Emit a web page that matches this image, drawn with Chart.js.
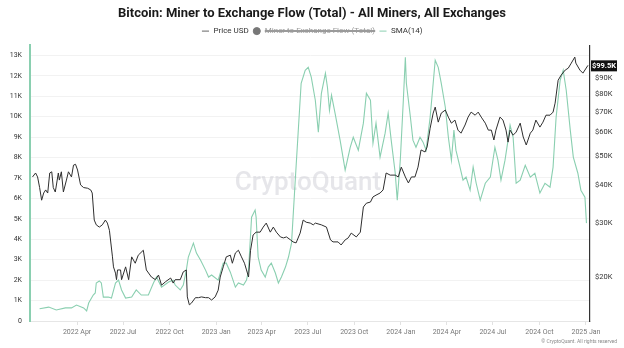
<!DOCTYPE html>
<html>
<head>
<meta charset="utf-8">
<script src="https://cdn.jsdelivr.net/npm/chart.js@4.4.1/dist/chart.umd.min.js"></script>
<style>
  html, body { margin: 0; padding: 0; background: #fff; }
  #wrap { width: 624px; height: 348px; }
</style>
</head>
<body>
<div id="wrap"><canvas id="chart" width="624" height="348"></canvas></div>
<script>
// BTC price (USD)
const priceDates = [
  '2022-01-03','2022-01-09','2022-01-13','2022-01-17','2022-01-21','2022-01-25','2022-01-29','2022-02-02',
  '2022-02-06','2022-02-10','2022-02-13','2022-02-17','2022-02-23','2022-02-25','2022-03-01','2022-03-05',
  '2022-03-11','2022-03-15','2022-03-21','2022-03-25','2022-03-29','2022-04-02','2022-04-08','2022-04-14',
  '2022-04-22','2022-04-28','2022-05-01','2022-05-05','2022-05-09','2022-05-15','2022-05-21','2022-05-27',
  '2022-05-31','2022-06-04','2022-06-10','2022-06-12','2022-06-16','2022-06-18','2022-06-20','2022-06-26',
  '2022-06-28','2022-07-06','2022-07-12','2022-07-18','2022-07-25','2022-07-31','2022-08-10','2022-08-16',
  '2022-08-26','2022-09-03','2022-09-09','2022-09-15','2022-09-23','2022-10-03','2022-10-08','2022-10-12',
  '2022-10-22','2022-10-28','2022-11-03','2022-11-05','2022-11-09','2022-11-13','2022-11-21','2022-11-27',
  '2022-12-03','2022-12-11','2022-12-17','2022-12-23','2022-12-30','2023-01-05','2023-01-09','2023-01-15',
  '2023-01-21','2023-01-29','2023-02-02','2023-02-08','2023-02-14','2023-02-20','2023-02-26','2023-03-02',
  '2023-03-06','2023-03-10','2023-03-15','2023-03-21','2023-03-29','2023-04-04','2023-04-10','2023-04-18',
  '2023-04-24','2023-04-30','2023-05-08','2023-05-14','2023-05-20','2023-05-28','2023-06-02','2023-06-08',
  '2023-06-16','2023-06-22','2023-06-28','2023-07-06','2023-07-12','2023-07-16','2023-07-28','2023-08-07',
  '2023-08-15','2023-08-20','2023-08-30','2023-09-05','2023-09-13','2023-09-19','2023-09-25','2023-10-05',
  '2023-10-13','2023-10-19','2023-10-25','2023-11-02','2023-11-07','2023-11-13','2023-11-21','2023-11-27',
  '2023-12-03','2023-12-11','2023-12-21','2023-12-27','2024-01-02','2024-01-10','2024-01-16','2024-01-22',
  '2024-01-29','2024-02-04','2024-02-10','2024-02-18','2024-02-22','2024-02-28','2024-03-05','2024-03-09',
  '2024-03-15','2024-03-21','2024-03-29','2024-04-04','2024-04-10','2024-04-17','2024-04-23','2024-04-29',
  '2024-05-07','2024-05-13','2024-05-19','2024-05-27','2024-06-02','2024-06-08','2024-06-16','2024-06-22',
  '2024-06-28','2024-07-03','2024-07-07','2024-07-15','2024-07-21','2024-07-27','2024-07-31','2024-08-04',
  '2024-08-10','2024-08-16','2024-08-24','2024-08-30','2024-09-05','2024-09-13','2024-09-18','2024-09-24',
  '2024-10-02','2024-10-08','2024-10-14','2024-10-22','2024-10-28','2024-11-01','2024-11-07','2024-11-13',
  '2024-11-21','2024-11-27','2024-12-03','2024-12-10','2024-12-12','2024-12-20','2024-12-26','2025-01-05'
];
const priceUsd = [
  42700,44000,42700,39400,35800,37800,38700,37800,
  44000,44400,39400,38100,44000,41700,44400,38100,
  41700,44400,42700,46700,47000,45000,40200,39400,
  39200,38700,37800,30800,29700,29200,29700,30800,
  30100,28500,23300,21600,20600,19600,21100,21100,
  19600,21600,19600,23300,22200,23600,24500,21100,
  20000,19600,20300,18800,19300,19850,19100,19600,
  19600,20800,21100,17200,16200,16400,17100,17100,
  17200,17100,17100,16800,17200,18100,20000,21600,
  23300,23600,22200,24000,24500,23300,22200,21100,
  20000,24500,27500,28100,28100,29200,30100,28100,
  29200,28100,27100,26900,27100,26500,26100,25900,
  27900,30800,30300,30100,29700,30100,29700,29200,
  26500,26100,26100,25500,26500,26900,27900,27100,
  28100,34000,35000,35300,36700,37200,37800,38700,
  44000,43300,43300,42700,46000,42700,40800,42700,
  42700,46000,52400,51600,53600,61800,69300,72500,
  64700,69300,70900,67200,64200,65700,60900,59500,
  63300,67200,69800,68200,69800,67200,64200,60900,
  60900,56500,60900,67200,65700,60900,55600,60900,
  58600,60000,64200,57800,54400,59500,60900,65700,
  62300,64700,68200,68200,69800,74700,88900,92400,
  96000,97400,101200,105900,101200,96000,93800,99500
];

// Miner to Exchange Flow (Total) SMA(14), in BTC
const smaDates = [
  '2022-01-17','2022-02-04','2022-02-19','2022-03-09','2022-03-21','2022-03-31','2022-04-14','2022-04-20',
  '2022-04-24','2022-05-03','2022-05-07','2022-05-09','2022-05-15','2022-05-19','2022-05-23','2022-06-02',
  '2022-06-08','2022-06-16','2022-06-22','2022-06-28','2022-07-06','2022-07-18','2022-07-27','2022-08-06',
  '2022-08-20','2022-08-30','2022-09-05','2022-09-15','2022-09-29','2022-10-08','2022-10-12','2022-10-22',
  '2022-10-28','2022-11-03','2022-11-07','2022-11-17','2022-11-23','2022-12-01','2022-12-11','2022-12-17',
  '2022-12-23','2023-01-05','2023-01-15','2023-01-21','2023-01-29','2023-02-08','2023-02-14','2023-02-24',
  '2023-03-02','2023-03-06','2023-03-12','2023-03-19','2023-03-21','2023-03-25','2023-03-31','2023-04-08',
  '2023-04-14','2023-04-20','2023-04-28','2023-05-04','2023-05-10','2023-05-18','2023-05-24','2023-05-30',
  '2023-06-06','2023-06-12','2023-06-18','2023-06-26','2023-07-02','2023-07-08','2023-07-16','2023-07-22',
  '2023-07-28','2023-08-05','2023-08-09','2023-08-13','2023-08-17','2023-08-24','2023-09-03','2023-09-13',
  '2023-09-23','2023-09-29','2023-10-09','2023-10-19','2023-10-25','2023-11-02','2023-11-07','2023-11-13',
  '2023-11-21','2023-12-01','2023-12-07','2023-12-13','2023-12-21','2023-12-25','2023-12-31','2024-01-06',
  '2024-01-10','2024-01-12','2024-01-20','2024-01-25','2024-01-31','2024-02-08','2024-02-14','2024-02-20',
  '2024-02-28','2024-03-05','2024-03-09','2024-03-15','2024-03-21','2024-03-29','2024-04-04','2024-04-10',
  '2024-04-15','2024-04-19','2024-04-27','2024-05-03','2024-05-09','2024-05-17','2024-05-23','2024-05-29',
  '2024-06-06','2024-06-16','2024-06-26','2024-07-05','2024-07-11','2024-07-17','2024-07-25','2024-07-31',
  '2024-08-04','2024-08-10','2024-08-16','2024-08-24','2024-09-03','2024-09-13','2024-09-22','2024-10-02',
  '2024-10-12','2024-10-22','2024-10-28','2024-11-03','2024-11-11','2024-11-17','2024-11-23','2024-12-01',
  '2024-12-07','2024-12-16','2024-12-22','2024-12-30','2025-01-02'
];
const smaValues = [
  600,680,540,640,640,780,640,490,
  880,1270,1370,1860,1960,1860,1170,1170,
  1120,1860,2000,1520,1120,1170,1520,1270,
  1270,1860,2150,1660,1910,2000,1760,1520,
  1760,2490,3130,3810,3320,2980,2490,2150,
  2250,2000,2830,2830,2390,1660,1860,1760,
  2000,2490,5080,5430,5080,3130,2490,2150,
  2640,2830,2350,1860,2150,2640,3130,3810,
  6740,9190,11630,12270,12410,11930,10800,9240,
  11140,12120,11440,10310,11050,10170,8850,7380,
  8500,8990,8360,9680,11140,10800,8700,9680,
  8020,9190,10170,8850,7230,5910,7870,10800,
  12900,11630,9970,8850,8500,8990,8750,8360,
  9970,11630,12760,12410,11630,10460,8990,7870,
  9340,8360,7530,6890,7040,6400,7530,6740,
  5910,6740,7040,8500,7870,6890,7870,8850,
  9580,8990,6740,6890,7620,7040,7230,6260,
  6740,6550,7530,9970,11780,12270,11290,9340,
  8020,7230,6400,6060,4790
];

// series shown switched off in the legend
const minerFlowValues = [];

const flowTicks = [0,1000,2000,3000,4000,5000,6000,7000,8000,9000,10000,11000,12000,13000];
const priceTicks = [20000,30000,40000,50000,60000,70000,80000,90000];
const quarterTicks = ['2022-04-01','2022-07-01','2022-10-01','2023-01-01','2023-04-01','2023-07-01',
  '2023-10-01','2024-01-01','2024-04-01','2024-07-01','2024-10-01','2025-01-01'];
const lastPriceLabel = '$99.5K';

const MONTHS = ['Jan','Feb','Mar','Apr','May','Jun','Jul','Aug','Sep','Oct','Nov','Dec'];
const toMs = d => Date.parse(d);
const FONT = 'Roboto, "Liberation Sans", sans-serif';
const GREEN = '#8acfb0';

const extras = {
  id: 'extras',
  beforeDatasetsDraw(chart) {
    const {ctx, chartArea: a} = chart;
    ctx.save();
    ctx.font = '500 26px ' + FONT;
    ctx.fillStyle = 'rgba(205,206,214,0.5)';
    ctx.textAlign = 'center';
    ctx.textBaseline = 'middle';
    ctx.fillText('CryptoQuant', (a.left + a.right) / 2 - 2, (a.top + a.bottom) / 2);
    ctx.restore();
  },
  afterDraw(chart) {
    const {ctx, chartArea: a} = chart;
    const y = chart.scales.price.getPixelForValue(priceUsd[priceUsd.length - 1]);
    ctx.save();
    ctx.fillStyle = '#111';
    ctx.fillRect(a.right + 1, y - 5, 26, 11);
    ctx.fillStyle = '#fff';
    ctx.font = 'bold 7.5px ' + FONT;
    ctx.textAlign = 'center';
    ctx.textBaseline = 'middle';
    ctx.fillText(lastPriceLabel, a.right + 14, y + 0.5);
    ctx.font = '5px ' + FONT;
    ctx.fillStyle = '#8a8a8a';
    ctx.textAlign = 'right';
    ctx.fillText('\u00a9 CryptoQuant. All rights reserved', 617, 342);
    ctx.restore();
  }
};

new Chart(document.getElementById('chart'), {
  type: 'line',
  data: {
    datasets: [
      {
        label: 'Price USD',
        data: priceDates.map((d, i) => ({x: toMs(d), y: priceUsd[i]})),
        yAxisID: 'price',
        borderColor: '#2e2e2e',
        borderWidth: 1,
        pointRadius: 0
      },
      {
        label: 'Miner to Exchange Flow (Total)',
        data: minerFlowValues,
        yAxisID: 'flow',
        hidden: true,
        borderColor: '#777',
        backgroundColor: '#777',
        pointRadius: 0
      },
      {
        label: 'SMA(14)',
        data: smaDates.map((d, i) => ({x: toMs(d), y: smaValues[i]})),
        yAxisID: 'flow',
        borderColor: GREEN,
        borderWidth: 1.1,
        pointRadius: 0
      }
    ]
  },
  options: {
    responsive: false,
    animation: false,
    devicePixelRatio: 1,
    layout: {padding: {left: 0, right: 0, top: 0, bottom: 0}},
    plugins: {
      title: {
        display: true,
        text: 'Bitcoin: Miner to Exchange Flow (Total) - All Miners, All Exchanges',
        color: '#1a1a1a',
        font: {family: FONT, size: 13, weight: 'bold'},
        padding: {top: 6, bottom: 1.5}
      },
      legend: {
        display: true,
        labels: {
          usePointStyle: true,
          boxWidth: 8,
          boxHeight: 5,
          padding: 4,
          color: '#333',
          font: {family: FONT, size: 8},
          generateLabels(chart) {
            const items = Chart.defaults.plugins.legend.labels.generateLabels(chart);
            return items.map(it => {
              if (it.datasetIndex === 1) {
                it.pointStyle = 'circle';
                it.fillStyle = '#777';
                it.strokeStyle = '#777';
                it.fontColor = '#9a9a9a';
              } else {
                it.pointStyle = 'line';
                it.lineWidth = 1;
                it.strokeStyle = it.datasetIndex === 0 ? '#666' : GREEN;
              }
              return it;
            });
          }
        }
      },
      tooltip: {enabled: false}
    },
    scales: {
      x: {
        type: 'linear',
        min: toMs('2021-12-29'),
        max: toMs('2025-01-09'),
        afterBuildTicks: s => { s.ticks = quarterTicks.map(d => ({value: toMs(d)})); },
        afterFit: s => { s.height = 27; },
        ticks: {
          autoSkip: false,
          maxRotation: 0,
          padding: 3,
          color: '#777',
          font: {family: FONT, size: 7},
          callback: v => { const d = new Date(v); return d.getUTCFullYear() + ' ' + MONTHS[d.getUTCMonth()]; }
        },
        grid: {drawOnChartArea: false, drawTicks: true, tickLength: 4, color: '#e2e2e2'},
        border: {color: '#e6e6e6', width: 1}
      },
      flow: {
        type: 'linear',
        position: 'left',
        min: 0,
        max: 13500,
        afterBuildTicks: s => { s.ticks = flowTicks.map(v => ({value: v})); },
        afterFit: s => { s.width = 30; },
        ticks: {
          padding: 8,
          color: '#333',
          font: {family: FONT, size: 7},
          callback: v => v === 0 ? '0' : (v / 1000) + 'K'
        },
        grid: {color: '#f2f2f2', drawTicks: false},
        border: {color: GREEN, width: 2}
      },
      price: {
        type: 'logarithmic',
        position: 'right',
        min: 14330,
        max: 116000,
        afterBuildTicks: s => { s.ticks = priceTicks.map(v => ({value: v})); },
        afterFit: s => { s.width = 34; },
        ticks: {
          padding: 5,
          color: '#333',
          font: {family: FONT, size: 7.5},
          callback: v => '$' + (v / 1000) + 'K'
        },
        grid: {display: false, drawTicks: false},
        border: {color: '#333', width: 1.2}
      }
    }
  },
  plugins: [extras]
});
</script>
</body>
</html>
